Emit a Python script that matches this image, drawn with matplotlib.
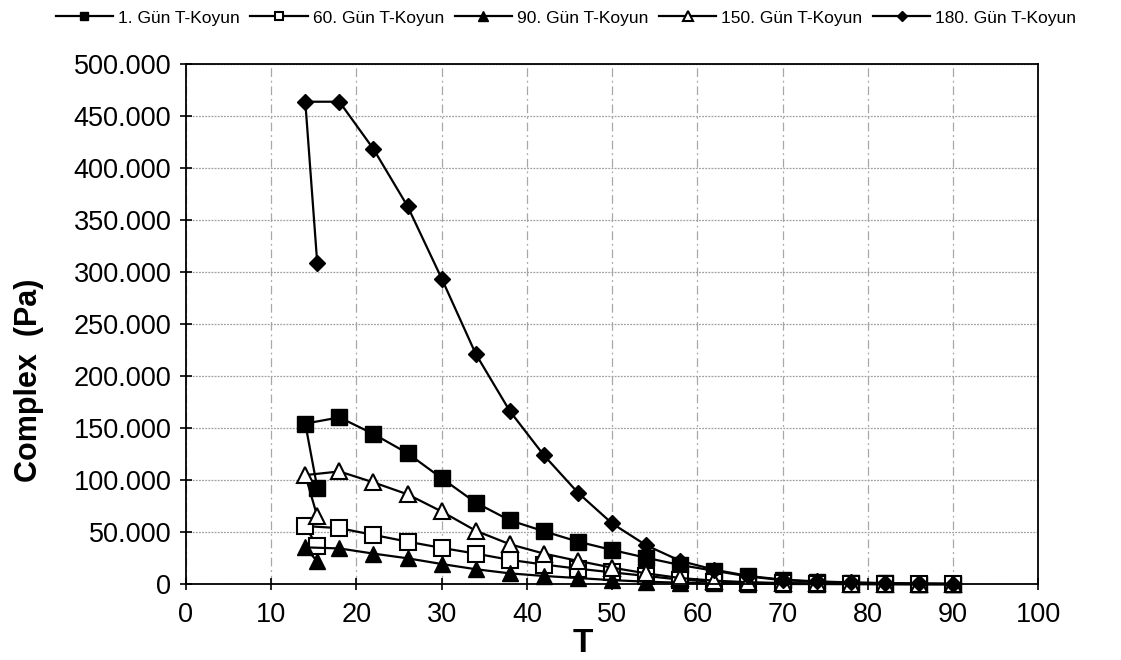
import matplotlib
matplotlib.use("Agg")
import matplotlib.pyplot as plt
from matplotlib.ticker import FuncFormatter, MultipleLocator

plt.rcParams['font.family'] = ['Liberation Sans', 'DejaVu Sans']

# Temperature (°C); the first reading was taken at 15.4 before the 14 °C start
T = [15.4, 14, 18, 22, 26, 30, 34, 38, 42, 46, 50, 54, 58, 62, 66, 70, 74, 78, 82, 86, 90]

series_labels = ['1. Gün T-Koyun', '60. Gün T-Koyun', '90. Gün T-Koyun',
                 '150. Gün T-Koyun', '180. Gün T-Koyun']

# Complex modulus (Pa)
gun1 = [93000, 154500, 160500, 144500, 126000, 102000, 78500, 61500, 51000, 41000,
        33000, 25500, 18500, 13000, 7500, 4000, 2500, 1500, 1000, 700, 500]
gun60 = [36500, 56000, 54000, 47500, 41000, 35000, 29500, 23500, 19000, 15000,
         11500, 8000, 4500, 2500, 1500, 800, 500, 300, 200, 150, 100]
gun90 = [22000, 35500, 34500, 29500, 25000, 19500, 14500, 10500, 8000, 6000,
         4000, 2500, 1500, 800, 500, 300, 200, 150, 100, 80, 50]
gun150 = [65500, 105000, 108500, 98000, 86500, 70000, 51500, 38500, 29500, 22500,
          16000, 10500, 6000, 3500, 2000, 1200, 800, 500, 300, 200, 150]
gun180 = [309000, 464000, 464000, 418500, 363500, 294000, 221500, 166500, 124000, 88000,
          58500, 37500, 22500, 14000, 8000, 4500, 2800, 1800, 1200, 800, 500]

fig = plt.figure(figsize=(11.21, 6.6), dpi=100)
ax = fig.add_axes([0.1659, 0.1147, 0.7603, 0.7879])

styles = [
    dict(marker='s', ms=11, mfc='black', mec='black'),
    dict(marker='s', ms=11, mfc='white', mec='black', mew=1.5),
    dict(marker='^', ms=12, mfc='black', mec='black'),
    dict(marker='^', ms=12, mfc='white', mec='black', mew=1.5),
    dict(marker='D', ms=8.5, mfc='black', mec='black'),
]
for vals, lab, st in zip([gun1, gun60, gun90, gun150, gun180], series_labels, styles):
    ax.plot(T, vals, color='black', lw=1.6, label=lab, clip_on=False, **st)

ax.set_xlim(0, 100)
ax.set_ylim(0, 500000)
ax.xaxis.set_major_locator(MultipleLocator(10))
ax.yaxis.set_major_locator(MultipleLocator(50000))


def thousands(v, pos):
    return f"{v:,.0f}".replace(',', '.')


ax.yaxis.set_major_formatter(FuncFormatter(thousands))

ax.tick_params(axis='both', direction='inout', length=9, width=1.2,
               labelsize=19.5, colors='black')
ax.tick_params(axis='x', pad=8)
ax.tick_params(axis='y', pad=6)

for s in ax.spines.values():
    s.set_linewidth(1.3)
    s.set_color('black')

ax.grid(axis='y', color='#a0a0a0', linestyle=(0, (1.5, 1)), linewidth=0.9)
ax.grid(axis='x', color='#a8a8a8', linestyle=(0, (7, 3, 1.5, 3)), linewidth=0.9)
ax.set_axisbelow(True)

ax.set_xlabel('T', fontsize=24, fontweight='bold')
ax.xaxis.set_label_coords(0.466, -0.085)
ax.set_ylabel('Complex  (Pa)', fontsize=22, fontweight='bold')
ax.yaxis.set_label_coords(-0.166, 0.393)

fig.legend(loc='upper center', bbox_to_anchor=(0.505, 1.0), ncol=5, frameon=False,
           fontsize=12.5, markerscale=0.55, handlelength=3.3, handletextpad=0.3,
           columnspacing=0.6, borderaxespad=0.2)

fig.savefig('out.png', dpi=100)
